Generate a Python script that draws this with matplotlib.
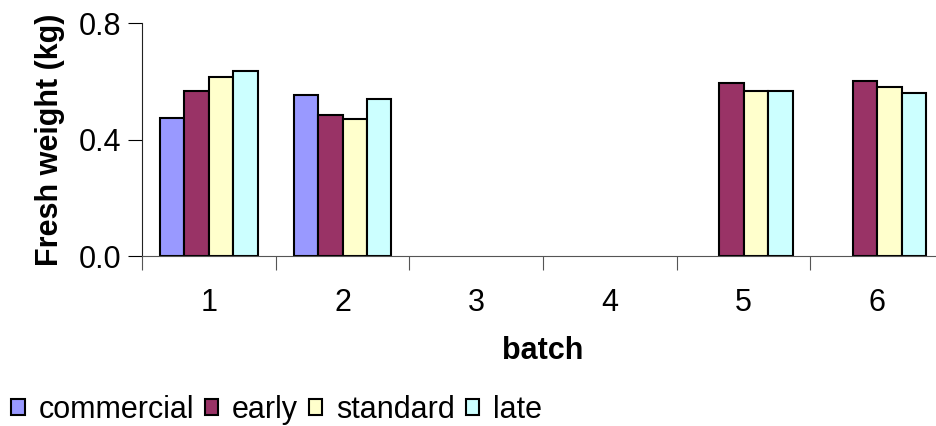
import numpy as np
import matplotlib.pyplot as plt

plt.rcParams['font.family'] = ['Liberation Sans', 'DejaVu Sans']

# Frischgewicht je Charge und Variante (NaN = kein Wert)
batches = ['1', '2', '3', '4', '5', '6']
series = ['commercial', 'early', 'standard', 'late']
commercial = [0.473, 0.553, np.nan, np.nan, np.nan, np.nan]
early = [0.568, 0.484, np.nan, np.nan, 0.595, 0.601]
standard = [0.616, 0.471, np.nan, np.nan, 0.566, 0.581]
late = [0.635, 0.539, np.nan, np.nan, 0.566, 0.561]
colors = ['#9999FF', '#993366', '#FFFFCC', '#CCFFFF']

values = [commercial, early, standard, late]
x = np.arange(1, len(batches) + 1)
w = 0.183

fig = plt.figure(figsize=(9.37, 4.26), dpi=100)
ax = fig.add_axes([0.1516, 0.399, 0.856, 0.547])

for k, (name, vals, c) in enumerate(zip(series, values, colors)):
    ax.bar(x + (k - 1.5) * w, vals, w, color=c, edgecolor='black',
           linewidth=1.5, label=name)

ax.set_xlim(0.5, 6.5)
ax.set_ylim(0, 0.8)
ax.set_yticks([0.0, 0.4, 0.8])
ax.set_yticklabels(['0.0', '0.4', '0.8'])
ax.set_xticks(np.arange(0.5, 7, 1.0))
ax.set_xticklabels([])
ax.set_xticks(x, minor=True)
ax.set_xticklabels(batches, minor=True)
ax.tick_params(axis='x', which='major', direction='out', length=10, color='#555555')
ax.tick_params(axis='x', which='minor', length=0, pad=23, labelsize=22)
ax.tick_params(axis='y', direction='out', length=10, labelsize=22, pad=5)

for s in ['top', 'right']:
    ax.spines[s].set_visible(False)
ax.spines['bottom'].set_color('#555555')
ax.spines['left'].set_color('#222222')

ax.set_ylabel('Fresh weight (kg)', fontsize=22, fontweight='bold', labelpad=10)
ax.set_xlabel('batch', fontsize=22, fontweight='bold', labelpad=13)

fig.legend(loc='lower left', bbox_to_anchor=(-0.008, -0.04), ncol=4, frameon=False,
           fontsize=22, handlelength=0.45, handleheight=0.45, handletextpad=0.45,
           columnspacing=0.35, borderaxespad=0.2)

fig.savefig('out.png', dpi=100)
